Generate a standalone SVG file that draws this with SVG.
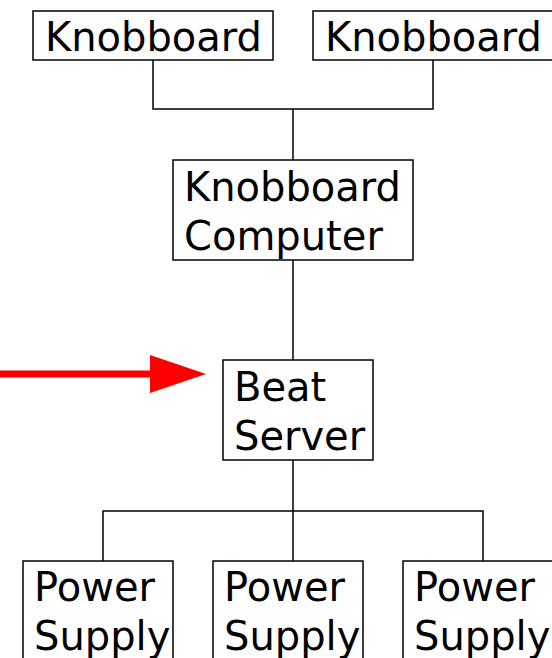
<svg xmlns="http://www.w3.org/2000/svg" width="552" height="658" viewBox="0 0 552 658">
  <defs>
    <style>
      .box { fill: #ffffff; stroke: #000000; stroke-width: 1.5; }
      .lbl { font-family: "DejaVu Sans", Verdana, sans-serif; font-size: 40px; fill: #000000; }
      .wire { fill: none; stroke: #000000; stroke-width: 1.5; }
    </style>
  </defs>
  <rect width="552" height="658" fill="#ffffff"/>

  <g id="connectors">
    <polyline class="wire" points="153,60 153,109 433,109 433,60"/>
    <line class="wire" x1="293" y1="109" x2="293" y2="160"/>
    <line class="wire" x1="293" y1="260" x2="293" y2="360"/>
    <line class="wire" x1="293" y1="460" x2="293" y2="561"/>
    <polyline class="wire" points="103,561 103,511 483,511 483,561"/>
  </g>

  <g id="knobboard-1">
    <rect class="box" x="33" y="11" width="240" height="49"/>
    <text class="lbl" x="45" y="51">Knobboard</text>
  </g>
  <g id="knobboard-2">
    <rect class="box" x="313" y="11" width="250" height="49"/>
    <text class="lbl" x="325" y="51">Knobboard</text>
  </g>

  <g id="knobboard-computer">
    <rect class="box" x="173" y="160" width="240" height="100"/>
    <text class="lbl" x="184" y="201">Knobboard</text>
    <text class="lbl" x="184" y="250">Computer</text>
  </g>

  <g id="beat-server">
    <rect class="box" x="223" y="360" width="150" height="100"/>
    <text class="lbl" x="234" y="401">Beat</text>
    <text class="lbl" x="234" y="450">Server</text>
  </g>

  <g id="power-supply-1">
    <rect class="box" x="23" y="561" width="150" height="110"/>
    <text class="lbl" x="34" y="601">Power</text>
    <text class="lbl" x="34" y="650">Supply</text>
  </g>
  <g id="power-supply-2">
    <rect class="box" x="213" y="561" width="150" height="110"/>
    <text class="lbl" x="224" y="601">Power</text>
    <text class="lbl" x="224" y="650">Supply</text>
  </g>
  <g id="power-supply-3">
    <rect class="box" x="403" y="561" width="150" height="110"/>
    <text class="lbl" x="414" y="601">Power</text>
    <text class="lbl" x="414" y="650">Supply</text>
  </g>

  <g id="pointer-arrow">
    <line x1="0" y1="374" x2="152" y2="374" stroke="#ff0000" stroke-width="7"/>
    <polygon points="150,355 206,374 150,393" fill="#ff0000"/>
  </g>
</svg>
